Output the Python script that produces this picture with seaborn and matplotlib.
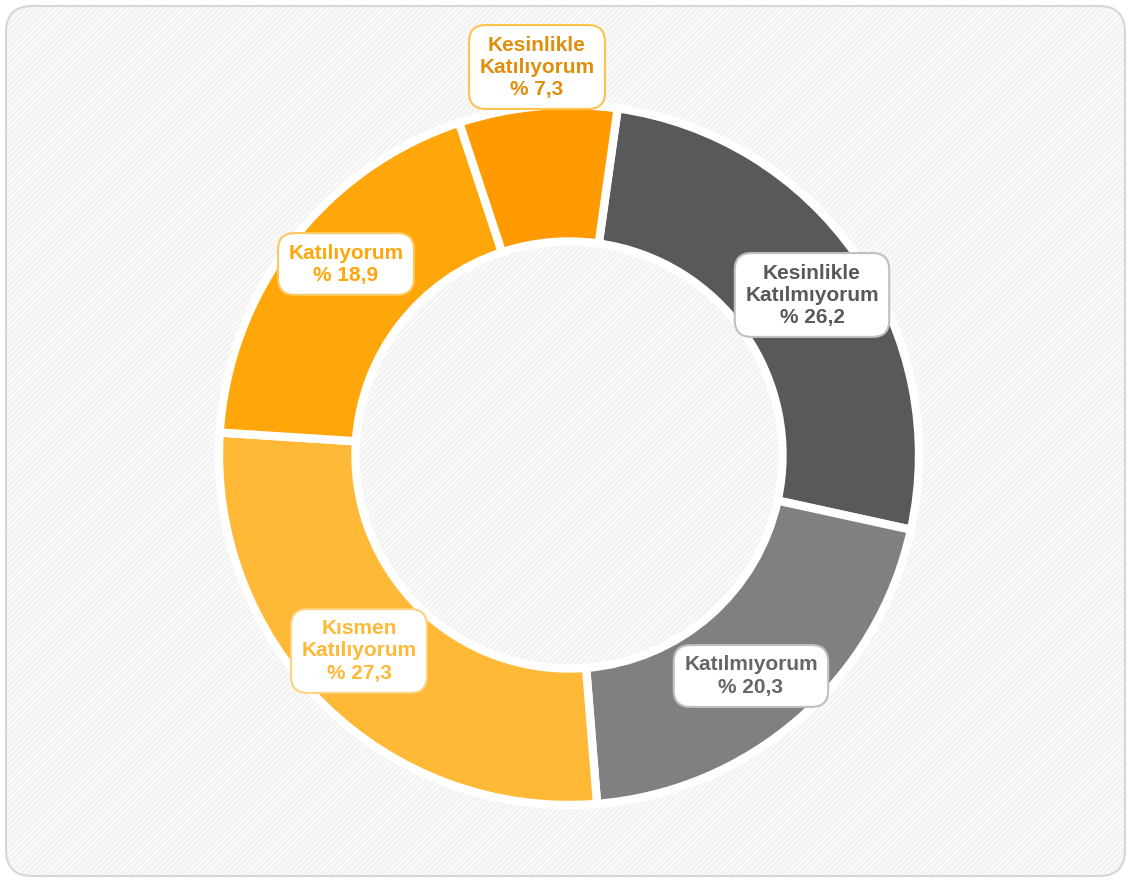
import matplotlib
matplotlib.use("Agg")
import matplotlib.pyplot as plt
import seaborn as sns
from matplotlib.patches import FancyBboxPatch

# Survey answers, clockwise from the top
labels = ["Kesinlikle\nKatılmıyorum", "Katılmıyorum", "Kısmen\nKatılıyorum",
          "Katılıyorum", "Kesinlikle\nKatılıyorum"]
values = [26.2, 20.3, 27.3, 18.9, 7.3]
colors = ["#595959", "#808080", "#FFB937", "#FFA70A", "#FF9A00"]
text_colors = ["#595959", "#666666", "#FFB937", "#FFA70A", "#E08E0B"]
edge_colors = ["#BFBFBF", "#BFBFBF", "#FFD27F", "#FFC85C", "#FFC34D"]
# label anchor positions in pixels (x, y from top)
label_pos = [(812, 295), (751, 676), (359, 651), (346, 264), (537, 67)]

W, H = 1129, 880
sns.set_theme(style="white")
plt.rcParams["font.family"] = ["Liberation Sans", "DejaVu Sans"]
plt.rcParams["hatch.linewidth"] = 2.0

fig = plt.figure(figsize=(W / 100, H / 100), dpi=100)
ax = fig.add_axes([0, 0, 1, 1])

# hatched rounded background panel (hatch colour comes from edgecolor)
box = dict(boxstyle="round,pad=0,rounding_size=26")
ax.add_patch(FancyBboxPatch((6, 4), W - 10, H - 10, facecolor="white",
                            edgecolor="#F2F2F2", linewidth=0, hatch="//////",
                            zorder=0, **box))
ax.add_patch(FancyBboxPatch((6, 4), W - 10, H - 10, facecolor="none",
                            edgecolor="#D6D6D6", linewidth=1.5, zorder=1, **box))

center = (569, H - 455)
radius = 350
wedges, _ = ax.pie(values, colors=colors, startangle=82, counterclock=False,
                   center=center, radius=radius, frame=True,
                   explode=[0.018] * len(values),
                   wedgeprops=dict(width=radius * 0.39, edgecolor="white",
                                   linewidth=6))
for w in wedges:
    w.set_zorder(2)
ax.set_xlim(0, W)
ax.set_ylim(0, H)
ax.set_aspect("equal")
ax.axis("off")

for lab, v, (x, y), tc, ec in zip(labels, values, label_pos, text_colors, edge_colors):
    txt = f"{lab}\n% {v:.1f}".replace(".", ",")
    ax.text(x, H - y, txt, ha="center", va="center", fontsize=15,
            fontweight="bold", color=tc, linespacing=1.2, zorder=5,
            bbox=dict(boxstyle="round,pad=0.5,rounding_size=0.8",
                      facecolor="white", edgecolor=ec, linewidth=1.5))

fig.savefig("out.png", dpi=100)
